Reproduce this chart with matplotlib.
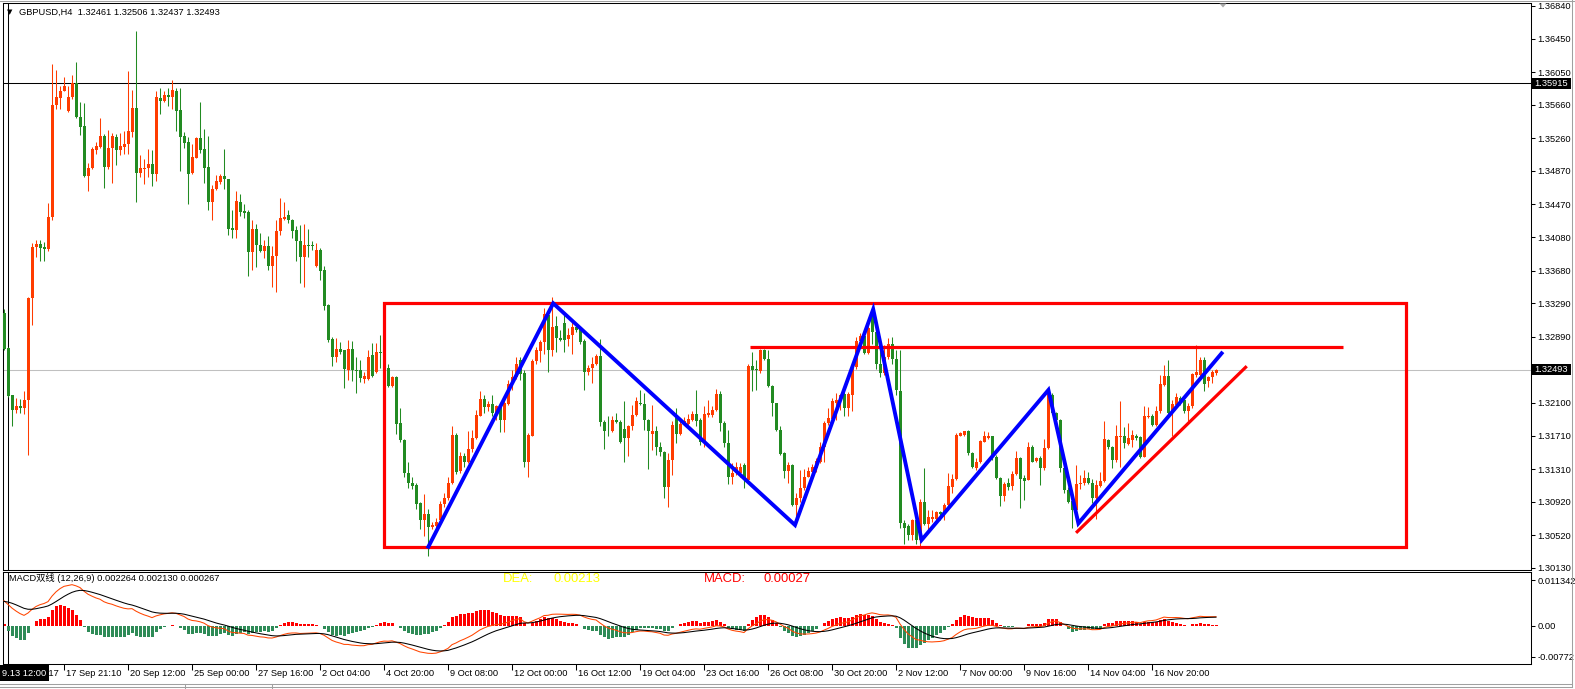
import numpy as np
import matplotlib
matplotlib.use("Agg")
import matplotlib.pyplot as plt
import matplotlib.transforms as mtransforms
from matplotlib.patches import Rectangle, Polygon
from matplotlib.lines import Line2D

plt.rcParams['font.family'] = ['Liberation Sans', 'Noto Sans CJK SC', 'DejaVu Sans']

# GBPUSD H4 candles, bar 0 = 13 Sep 2017
opens = [
    1.3317, 1.3276, 1.3219, 1.3202, 1.3206, 1.3204, 1.3214, 1.3335, 1.3396, 1.3400,
    1.3396, 1.3394, 1.3432, 1.3566, 1.3574, 1.3583, 1.3559, 1.3575, 1.3592, 1.3552,
    1.3541, 1.3481, 1.3490, 1.3512, 1.3516, 1.3529, 1.3492, 1.3515, 1.3528, 1.3512,
    1.3516, 1.3519, 1.3534, 1.3562, 1.3485, 1.3489, 1.3490, 1.3495, 1.3483, 1.3574,
    1.3571, 1.3578, 1.3575, 1.3582, 1.3560, 1.3529, 1.3522, 1.3485, 1.3503, 1.3526,
    1.3513, 1.3492, 1.3450, 1.3465, 1.3474, 1.3481, 1.3477, 1.3419, 1.3417, 1.3450,
    1.3439, 1.3438, 1.3390, 1.3418, 1.3399, 1.3392, 1.3397, 1.3374, 1.3385, 1.3415,
    1.3430, 1.3435, 1.3429, 1.3416, 1.3403, 1.3384, 1.3399, 1.3399, 1.3373, 1.3393,
    1.3369, 1.3327, 1.3286, 1.3265, 1.3274, 1.3273, 1.3249, 1.3275, 1.3249, 1.3249,
    1.3239, 1.3239, 1.3267, 1.3247, 1.3271, 1.3270, 1.3252, 1.3230, 1.3241, 1.3186,
    1.3166, 1.3127, 1.3115, 1.3112, 1.3090, 1.3070, 1.3077, 1.3062, 1.3063, 1.3070,
    1.3089, 1.3097, 1.3114, 1.3172, 1.3129, 1.3147, 1.3139, 1.3155, 1.3168, 1.3195,
    1.3215, 1.3205, 1.3209, 1.3198, 1.3206, 1.3190, 1.3209, 1.3233, 1.3241, 1.3261,
    1.3246, 1.3140, 1.3171, 1.3260, 1.3272, 1.3283, 1.3315, 1.3273, 1.3302, 1.3287,
    1.3306, 1.3286, 1.3291, 1.3301, 1.3298, 1.3284, 1.3247, 1.3252, 1.3256, 1.3266,
    1.3187, 1.3177, 1.3176, 1.3190, 1.3187, 1.3179, 1.3168, 1.3182, 1.3196, 1.3210,
    1.3209, 1.3190, 1.3173, 1.3176, 1.3157, 1.3151, 1.3110, 1.3142, 1.3194, 1.3173,
    1.3185, 1.3185, 1.3190, 1.3197, 1.3190, 1.3164, 1.3196, 1.3196, 1.3202, 1.3221,
    1.3186, 1.3162, 1.3122, 1.3126, 1.3127, 1.3136, 1.3118, 1.3254, 1.3251, 1.3248,
    1.3273, 1.3263, 1.3230, 1.3210, 1.3178, 1.3150, 1.3129, 1.3136, 1.3088, 1.3096,
    1.3108, 1.3122, 1.3128, 1.3132, 1.3140, 1.3158, 1.3186, 1.3191, 1.3210, 1.3212,
    1.3221, 1.3204, 1.3220, 1.3253, 1.3284, 1.3290, 1.3270, 1.3312, 1.3295, 1.3257,
    1.3246, 1.3265, 1.3281, 1.3262, 1.3224, 1.3067, 1.3063, 1.3052, 1.3070, 1.3046,
    1.3092, 1.3066, 1.3072, 1.3072, 1.3080, 1.3077, 1.3088, 1.3110, 1.3119, 1.3171,
    1.3172, 1.3176, 1.3150, 1.3132, 1.3139, 1.3164, 1.3168, 1.3170, 1.3146, 1.3120,
    1.3099, 1.3114, 1.3111, 1.3125, 1.3144, 1.3120, 1.3118, 1.3158, 1.3141, 1.3144,
    1.3132, 1.3156, 1.3220, 1.3198, 1.3190, 1.3132, 1.3106, 1.3093, 1.3082, 1.3113,
    1.3115, 1.3121, 1.3115, 1.3096, 1.3111, 1.3117, 1.3166, 1.3158, 1.3142, 1.3169,
    1.3170, 1.3161, 1.3166, 1.3171, 1.3169, 1.3146, 1.3193, 1.3195, 1.3184, 1.3200,
    1.3232, 1.3242, 1.3198, 1.3208, 1.3216, 1.3214, 1.3200, 1.3206, 1.3244, 1.3243,
    1.3261, 1.3236, 1.3241, 1.32461,
]
highs = [
    1.3322, 1.3277, 1.3220, 1.3216, 1.3215, 1.3224, 1.3337, 1.3401, 1.3404, 1.3405,
    1.3402, 1.3449, 1.3615, 1.3608, 1.3588, 1.3599, 1.3589, 1.3602, 1.3617, 1.3569,
    1.3568, 1.3496, 1.3516, 1.3522, 1.3550, 1.3531, 1.3536, 1.3532, 1.3531, 1.3532,
    1.3535, 1.3606, 1.3584, 1.3654, 1.3506, 1.3501, 1.3513, 1.3512, 1.3582, 1.3586,
    1.3583, 1.3586, 1.3596, 1.3586, 1.3586, 1.3533, 1.3528, 1.3519, 1.3528, 1.3569,
    1.3537, 1.3529, 1.3470, 1.3482, 1.3483, 1.3513, 1.3478, 1.3440, 1.3463, 1.3460,
    1.3448, 1.3440, 1.3429, 1.3424, 1.3413, 1.3405, 1.3409, 1.3397, 1.3429, 1.3455,
    1.3450, 1.3440, 1.3430, 1.3421, 1.3423, 1.3424, 1.3418, 1.3403, 1.3401, 1.3395,
    1.3374, 1.3328, 1.3289, 1.3287, 1.3283, 1.3273, 1.3285, 1.3284, 1.3265, 1.3261,
    1.3247, 1.3273, 1.3282, 1.3282, 1.3291, 1.3290, 1.3257, 1.3242, 1.3242, 1.3204,
    1.3167, 1.3140, 1.3122, 1.3114, 1.3092, 1.3101, 1.3083, 1.3068, 1.3073, 1.3093,
    1.3103, 1.3122, 1.3183, 1.3174, 1.3151, 1.3150, 1.3177, 1.3178, 1.3202, 1.3224,
    1.3220, 1.3212, 1.3220, 1.3208, 1.3210, 1.3213, 1.3238, 1.3249, 1.3265, 1.3265,
    1.3249, 1.3174, 1.3263, 1.3277, 1.3285, 1.3323, 1.3319, 1.3337, 1.3314, 1.3297,
    1.3318, 1.3299, 1.3307, 1.3304, 1.3301, 1.3286, 1.3255, 1.3265, 1.3269, 1.3286,
    1.3190, 1.3194, 1.3194, 1.3198, 1.3190, 1.3212, 1.3184, 1.3208, 1.3217, 1.3225,
    1.3222, 1.3191, 1.3208, 1.3182, 1.3164, 1.3153, 1.3150, 1.3189, 1.3204, 1.3188,
    1.3193, 1.3197, 1.3200, 1.3225, 1.3192, 1.3206, 1.3214, 1.3206, 1.3227, 1.3224,
    1.3189, 1.3178, 1.3138, 1.3140, 1.3138, 1.3138, 1.3257, 1.3271, 1.3261, 1.3274,
    1.3274, 1.3273, 1.3231, 1.3210, 1.3182, 1.3151, 1.3139, 1.3137, 1.3102, 1.3130,
    1.3131, 1.3134, 1.3137, 1.3144, 1.3163, 1.3188, 1.3204, 1.3216, 1.3222, 1.3221,
    1.3223, 1.3223, 1.3255, 1.3289, 1.3293, 1.3293, 1.3302, 1.3322, 1.3309, 1.3281,
    1.3279, 1.3288, 1.3289, 1.3273, 1.3273, 1.3070, 1.3066, 1.3072, 1.3072, 1.3095,
    1.3132, 1.3082, 1.3082, 1.3081, 1.3081, 1.3090, 1.3126, 1.3125, 1.3174, 1.3175,
    1.3177, 1.3178, 1.3152, 1.3144, 1.3166, 1.3176, 1.3175, 1.3171, 1.3148, 1.3122,
    1.3116, 1.3120, 1.3129, 1.3153, 1.3146, 1.3124, 1.3164, 1.3160, 1.3146, 1.3147,
    1.3167, 1.3226, 1.3222, 1.3199, 1.3191, 1.3134, 1.3110, 1.3094, 1.3136, 1.3124,
    1.3130, 1.3128, 1.3119, 1.3118, 1.3128, 1.3188, 1.3167, 1.3159, 1.3184, 1.3212,
    1.3181, 1.3186, 1.3178, 1.3173, 1.3171, 1.3206, 1.3205, 1.3197, 1.3206, 1.3244,
    1.3255, 1.3261, 1.3214, 1.3222, 1.3218, 1.3220, 1.3210, 1.3246, 1.3279, 1.3265,
    1.3265, 1.3242, 1.3249, 1.32506,
]
lows = [
    1.3273, 1.3217, 1.3183, 1.3198, 1.3198, 1.3197, 1.3148, 1.3303, 1.3384, 1.3380,
    1.3380, 1.3391, 1.3429, 1.3561, 1.3561, 1.3582, 1.3557, 1.3573, 1.3550, 1.3530,
    1.3480, 1.3463, 1.3489, 1.3507, 1.3515, 1.3467, 1.3489, 1.3473, 1.3494, 1.3506,
    1.3507, 1.3507, 1.3527, 1.3450, 1.3480, 1.3472, 1.3480, 1.3469, 1.3475, 1.3555,
    1.3569, 1.3565, 1.3561, 1.3535, 1.3487, 1.3514, 1.3448, 1.3483, 1.3502, 1.3508,
    1.3473, 1.3441, 1.3429, 1.3464, 1.3472, 1.3466, 1.3411, 1.3407, 1.3407, 1.3433,
    1.3431, 1.3362, 1.3369, 1.3372, 1.3390, 1.3383, 1.3369, 1.3348, 1.3342, 1.3410,
    1.3429, 1.3425, 1.3407, 1.3380, 1.3353, 1.3349, 1.3384, 1.3393, 1.3372, 1.3357,
    1.3321, 1.3283, 1.3254, 1.3259, 1.3269, 1.3228, 1.3238, 1.3236, 1.3222, 1.3235,
    1.3234, 1.3238, 1.3241, 1.3246, 1.3252, 1.3250, 1.3229, 1.3229, 1.3173, 1.3163,
    1.3122, 1.3109, 1.3107, 1.3084, 1.3060, 1.3051, 1.3027, 1.3060, 1.3061, 1.3068,
    1.3086, 1.3094, 1.3113, 1.3125, 1.3127, 1.3134, 1.3138, 1.3151, 1.3167, 1.3194,
    1.3198, 1.3200, 1.3194, 1.3190, 1.3175, 1.3175, 1.3208, 1.3225, 1.3239, 1.3237,
    1.3133, 1.3122, 1.3170, 1.3257, 1.3259, 1.3268, 1.3247, 1.3266, 1.3271, 1.3284,
    1.3271, 1.3278, 1.3268, 1.3295, 1.3281, 1.3225, 1.3243, 1.3234, 1.3255, 1.3182,
    1.3155, 1.3170, 1.3175, 1.3186, 1.3162, 1.3139, 1.3147, 1.3178, 1.3194, 1.3208,
    1.3178, 1.3131, 1.3154, 1.3148, 1.3147, 1.3097, 1.3086, 1.3124, 1.3162, 1.3172,
    1.3184, 1.3182, 1.3188, 1.3182, 1.3160, 1.3158, 1.3193, 1.3193, 1.3200, 1.3176,
    1.3158, 1.3113, 1.3113, 1.3124, 1.3122, 1.3109, 1.3117, 1.3224, 1.3225, 1.3246,
    1.3261, 1.3229, 1.3195, 1.3177, 1.3148, 1.3120, 1.3114, 1.3087, 1.3066, 1.3092,
    1.3106, 1.3122, 1.3125, 1.3128, 1.3138, 1.3140, 1.3184, 1.3189, 1.3190, 1.3202,
    1.3194, 1.3195, 1.3200, 1.3251, 1.3281, 1.3269, 1.3268, 1.3280, 1.3250, 1.3241,
    1.3243, 1.3263, 1.3257, 1.3220, 1.3061, 1.3042, 1.3047, 1.3046, 1.3042, 1.3039,
    1.3064, 1.3058, 1.3068, 1.3070, 1.3070, 1.3070, 1.3082, 1.3102, 1.3118, 1.3170,
    1.3170, 1.3148, 1.3132, 1.3130, 1.3138, 1.3163, 1.3167, 1.3142, 1.3119, 1.3087,
    1.3093, 1.3106, 1.3106, 1.3124, 1.3085, 1.3094, 1.3118, 1.3139, 1.3140, 1.3112,
    1.3130, 1.3155, 1.3197, 1.3188, 1.3128, 1.3102, 1.3090, 1.3061, 1.3080, 1.3107,
    1.3112, 1.3113, 1.3090, 1.3072, 1.3110, 1.3116, 1.3155, 1.3132, 1.3140, 1.3134,
    1.3156, 1.3160, 1.3158, 1.3166, 1.3144, 1.3145, 1.3192, 1.3183, 1.3182, 1.3198,
    1.3230, 1.3197, 1.3170, 1.3206, 1.3208, 1.3198, 1.3189, 1.3204, 1.3241, 1.3239,
    1.3224, 1.3229, 1.3234, 1.32437,
]
closes = [
    1.3275, 1.3218, 1.3202, 1.3206, 1.3204, 1.3214, 1.3335, 1.3396, 1.3400, 1.3395,
    1.3394, 1.3432, 1.3566, 1.3575, 1.3583, 1.3589, 1.3575, 1.3592, 1.3551, 1.3540,
    1.3481, 1.3491, 1.3513, 1.3517, 1.3529, 1.3492, 1.3515, 1.3529, 1.3512, 1.3517,
    1.3519, 1.3535, 1.3562, 1.3485, 1.3490, 1.3491, 1.3495, 1.3483, 1.3575, 1.3571,
    1.3578, 1.3575, 1.3584, 1.3559, 1.3528, 1.3521, 1.3483, 1.3504, 1.3526, 1.3512,
    1.3491, 1.3450, 1.3465, 1.3475, 1.3481, 1.3477, 1.3418, 1.3417, 1.3451, 1.3438,
    1.3437, 1.3390, 1.3418, 1.3399, 1.3392, 1.3397, 1.3374, 1.3386, 1.3415, 1.3431,
    1.3432, 1.3429, 1.3415, 1.3403, 1.3384, 1.3399, 1.3398, 1.3397, 1.3393, 1.3368,
    1.3326, 1.3285, 1.3265, 1.3274, 1.3271, 1.3251, 1.3275, 1.3249, 1.3248, 1.3240,
    1.3242, 1.3265, 1.3242, 1.3271, 1.3270, 1.3256, 1.3230, 1.3241, 1.3185, 1.3166,
    1.3127, 1.3115, 1.3111, 1.3089, 1.3070, 1.3077, 1.3062, 1.3064, 1.3068, 1.3089,
    1.3097, 1.3114, 1.3172, 1.3128, 1.3147, 1.3140, 1.3155, 1.3168, 1.3196, 1.3215,
    1.3205, 1.3209, 1.3198, 1.3206, 1.3190, 1.3210, 1.3233, 1.3241, 1.3257, 1.3245,
    1.3140, 1.3172, 1.3260, 1.3273, 1.3283, 1.3316, 1.3273, 1.3301, 1.3287, 1.3285,
    1.3285, 1.3291, 1.3301, 1.3297, 1.3283, 1.3247, 1.3252, 1.3256, 1.3266, 1.3187,
    1.3177, 1.3176, 1.3190, 1.3187, 1.3163, 1.3168, 1.3183, 1.3196, 1.3212, 1.3209,
    1.3190, 1.3176, 1.3176, 1.3157, 1.3151, 1.3110, 1.3142, 1.3184, 1.3173, 1.3185,
    1.3189, 1.3191, 1.3197, 1.3188, 1.3164, 1.3197, 1.3198, 1.3202, 1.3221, 1.3186,
    1.3162, 1.3122, 1.3127, 1.3134, 1.3134, 1.3118, 1.3254, 1.3249, 1.3249, 1.3273,
    1.3263, 1.3230, 1.3210, 1.3178, 1.3149, 1.3129, 1.3136, 1.3088, 1.3096, 1.3108,
    1.3122, 1.3129, 1.3134, 1.3141, 1.3158, 1.3186, 1.3192, 1.3212, 1.3214, 1.3220,
    1.3204, 1.3221, 1.3253, 1.3284, 1.3290, 1.3270, 1.3299, 1.3295, 1.3257, 1.3246,
    1.3265, 1.3281, 1.3262, 1.3225, 1.3067, 1.3061, 1.3052, 1.3070, 1.3046, 1.3092,
    1.3066, 1.3074, 1.3074, 1.3080, 1.3077, 1.3088, 1.3111, 1.3119, 1.3172, 1.3174,
    1.3176, 1.3150, 1.3133, 1.3140, 1.3165, 1.3171, 1.3171, 1.3146, 1.3120, 1.3099,
    1.3113, 1.3110, 1.3125, 1.3144, 1.3119, 1.3117, 1.3158, 1.3140, 1.3144, 1.3132,
    1.3156, 1.3224, 1.3198, 1.3190, 1.3132, 1.3106, 1.3092, 1.3082, 1.3113, 1.3115,
    1.3121, 1.3115, 1.3096, 1.3112, 1.3117, 1.3167, 1.3157, 1.3142, 1.3170, 1.3170,
    1.3162, 1.3168, 1.3172, 1.3168, 1.3146, 1.3194, 1.3195, 1.3184, 1.3200, 1.3233,
    1.3242, 1.3198, 1.3209, 1.3217, 1.3210, 1.3200, 1.3206, 1.3245, 1.3247, 1.3261,
    1.3233, 1.3241, 1.3247, 1.32493,
]
assert len(opens) == len(highs) == len(lows) == len(closes)

# MACD(12,26,9) state carried in from bars before the visible window
EMA12_START = 1.3275
EMA26_START = 1.3208
DEA_START = 0.0060

price_ticks = [1.36840, 1.36450, 1.36050, 1.35660, 1.35260, 1.34870, 1.34470, 1.34080,
               1.33680, 1.33290, 1.32890, 1.32100, 1.31710, 1.31310, 1.30920, 1.30520, 1.30130]
macd_ticks = [0.011342, 0.0, -0.00772]
macd_tick_labels = ['0.011342', '0.00', '-0.00772']

time_tick_bars = [0, 15, 31, 47, 63, 79, 95, 111, 127, 143, 159, 175, 191, 207, 223, 239, 255, 271, 287]
time_tick_labels = ['13 Sep 2017', '17 Sep 21:10', '20 Sep 12:00', '25 Sep 00:00', '27 Sep 16:00',
                    '2 Oct 04:00', '4 Oct 20:00', '9 Oct 08:00', '12 Oct 00:00', '16 Oct 12:00',
                    '19 Oct 04:00', '23 Oct 16:00', '26 Oct 08:00', '30 Oct 20:00', '2 Nov 12:00',
                    '7 Nov 00:00', '9 Nov 16:00', '14 Nov 04:00', '16 Nov 20:00']

bid_price = 1.32493
cross_price = 1.35915
cross_bar = 1

# drawn objects (bar index, price)
box_bars = [94.9, 350.6]
box_prices = [1.30384, 1.33297]
zigzag_bars = [106.1, 137.3, 197.75, 217.3, 229.4, 261.1, 268.6, 304.4]
zigzag_prices = [1.30384, 1.33290, 1.30643, 1.33219, 1.30464, 1.32255, 1.30663, 1.32693]
support_bars = [268.3, 310.4]
support_prices = [1.30563, 1.32526]
resist_bars = [186.5, 334.7]
resist_price = 1.32765

BULL = '#FF3C00'
BEAR = '#228B22'

W, H = 1575, 689


def fx(px):
    return px / W


def fy(py):
    return 1 - py / H


fig = plt.figure(figsize=(W / 100, H / 100), dpi=100)
fig.patch.set_facecolor('white')

left, right = 2.5, 1530.5
ax = fig.add_axes([fx(left), fy(570), (right - left) / W, (570 - 3.3) / H])
ax2 = fig.add_axes([fx(left), fy(664), (right - left) / W, (664 - 572) / H])

xmin = -0.375
xmax = xmin + (right - left) / 4.0
for a in (ax, ax2):
    a.set_xlim(xmin, xmax)
    for s in a.spines.values():
        s.set_linewidth(0.75)
        s.set_color('black')
ax.set_ylim(1.30106, 1.36872)
ax2.set_ylim(-0.009453, 0.013323)

o = np.array(opens)
h = np.array(highs)
l = np.array(lows)
c = np.array(closes)
x = np.arange(len(c))
cols = np.where(c >= o, BULL, BEAR)

# bid line and crosshair
ax.axhline(bid_price, color='#C0C0C0', lw=0.75, zorder=1)
ax.axhline(cross_price, color='black', lw=0.75, zorder=1)
ax.axvline(cross_bar, color='black', lw=0.75, zorder=1)
ax2.axvline(cross_bar, color='black', lw=0.75, zorder=1)

# candles
ax.vlines(x, l, h, colors=cols, lw=0.75, zorder=3)
body_low = np.minimum(o, c)
body_h = np.maximum(np.abs(c - o), 0.00009)
ax.bar(x, body_h, bottom=body_low, width=0.75, color=cols, lw=0, zorder=4, antialiased=False)

# drawn objects
ax.add_patch(Rectangle((box_bars[0], box_prices[0]), box_bars[1] - box_bars[0],
                       box_prices[1] - box_prices[0], fill=False, ec='#FF0000', lw=2.3,
                       joinstyle='miter', zorder=5))
ax.plot(resist_bars, [resist_price, resist_price], color='#FF0000', lw=2.3, zorder=5,
        solid_capstyle='butt')
ax.plot(support_bars, support_prices, color='#FF0000', lw=2.3, zorder=5)
ax.plot(zigzag_bars, zigzag_prices, color='#0000FF', lw=2.8, zorder=6, solid_joinstyle='miter')


# MACD
def ema(vals, n, start):
    k = 2.0 / (n + 1)
    out = []
    e = start
    for v in vals:
        e = e + k * (v - e)
        out.append(e)
    return np.array(out)


dif = ema(c, 12, EMA12_START) - ema(c, 26, EMA26_START)
dea = ema(dif, 9, DEA_START)
hist = 2 * (dif - dea)
ax2.bar(x, hist, width=0.75, color=np.where(hist >= 0, '#FF0000', '#2E8B57'), lw=0,
        antialiased=False, zorder=2)
ax2.plot(x, dif, color='#FF4500', lw=0.75, zorder=3)
ax2.plot(x, dea, color='black', lw=0.75, zorder=3)

# axes ticks
ax.set_xticks([])
ax.yaxis.tick_right()
ax.set_yticks(price_ticks)
ax.set_yticklabels(['%.5f' % p for p in price_ticks])
ax.tick_params(axis='y', direction='out', length=3, width=0.75, pad=2, labelsize=6.7)

ax2.yaxis.tick_right()
ax2.set_yticks(macd_ticks)
ax2.set_yticklabels(macd_tick_labels)
ax2.tick_params(axis='y', direction='out', length=3, width=0.75, pad=2, labelsize=6.7)
ax2.set_xticks(time_tick_bars)
ax2.set_xticklabels([])
ax2.tick_params(axis='x', direction='out', length=4, width=0.75)

trans = mtransforms.blended_transform_factory(ax2.transData, ax2.transAxes)
trans = trans + mtransforms.ScaledTranslation(2 / 100, 0, fig.dpi_scale_trans)
for b, s in zip(time_tick_bars, time_tick_labels):
    ax2.text(b, -0.1, s, transform=trans, ha='left', va='center', fontsize=6.7, clip_on=False)

# header and indicator texts
fig.text(fx(10), fy(12), '▼', fontsize=5, ha='center', va='center', family='DejaVu Sans')
fig.text(fx(19), fy(12), 'GBPUSD,H4  %.5f %.5f %.5f %.5f' % (opens[-1], highs[-1], lows[-1], closes[-1]),
         fontsize=6.7, ha='left', va='center')
fig.text(fx(9), fy(578), 'MACD双线 (12,26,9) %.6f %.6f %.6f' % (0.002264, 0.002130, 0.000267),
         fontsize=6.7, ha='left', va='center')
fig.text(fx(503), fy(579), 'DEA:', fontsize=9.4, color='#FFFF00', ha='left', va='center')
fig.text(fx(553), fy(579), '0.00213', fontsize=9.4, color='#FFFF00', ha='left', va='center')
fig.text(fx(704), fy(579), 'MACD:', fontsize=9.4, color='#FF0000', ha='left', va='center')
fig.text(fx(764), fy(579), '0.00027', fontsize=9.4, color='#FF0000', ha='left', va='center')

# black value boxes on the price scale
for price, yc in ((cross_price, 83.5), (bid_price, 369.5)):
    fig.patches.append(Rectangle((fx(1531.5), fy(yc + 5.5)), 39 / W, 11 / H, transform=fig.transFigure,
                                 fc='black', ec='none', zorder=5))
    fig.text(fx(1551), fy(yc), '%.5f' % price, color='white', fontsize=6.7, ha='center',
             va='center', zorder=6)

# crosshair time box
fig.patches.append(Rectangle((0, fy(681)), 48.5 / W, 16 / H, transform=fig.transFigure,
                             fc='black', ec='none', zorder=5))
fig.text(fx(1.5), fy(673), '9.13 12:00', color='white', fontsize=6.7, ha='left', va='center', zorder=6)

# chart shift marker
fig.patches.append(Polygon([(fx(1219.5), fy(3.5)), (fx(1226.5), fy(3.5)), (fx(1223), fy(7.5))],
                           closed=True, transform=fig.transFigure, fc='#A8A8A8', ec='none', zorder=5))

# window frame
for xs, ys in (([0, W], [0.5, 0.5]), ([1572, 1572], [0, 687]), ([0, 1572], [686.5, 686.5]),
               ([0, 1572], [683.5, 683.5]), ([185, 185], [683.5, 689]), ([272, 272], [683.5, 689])):
    fig.lines.append(Line2D([fx(v) for v in xs], [fy(v) for v in ys], transform=fig.transFigure,
                            color='#A0A0A0', lw=0.75))

fig.savefig('out.png', dpi=100)
